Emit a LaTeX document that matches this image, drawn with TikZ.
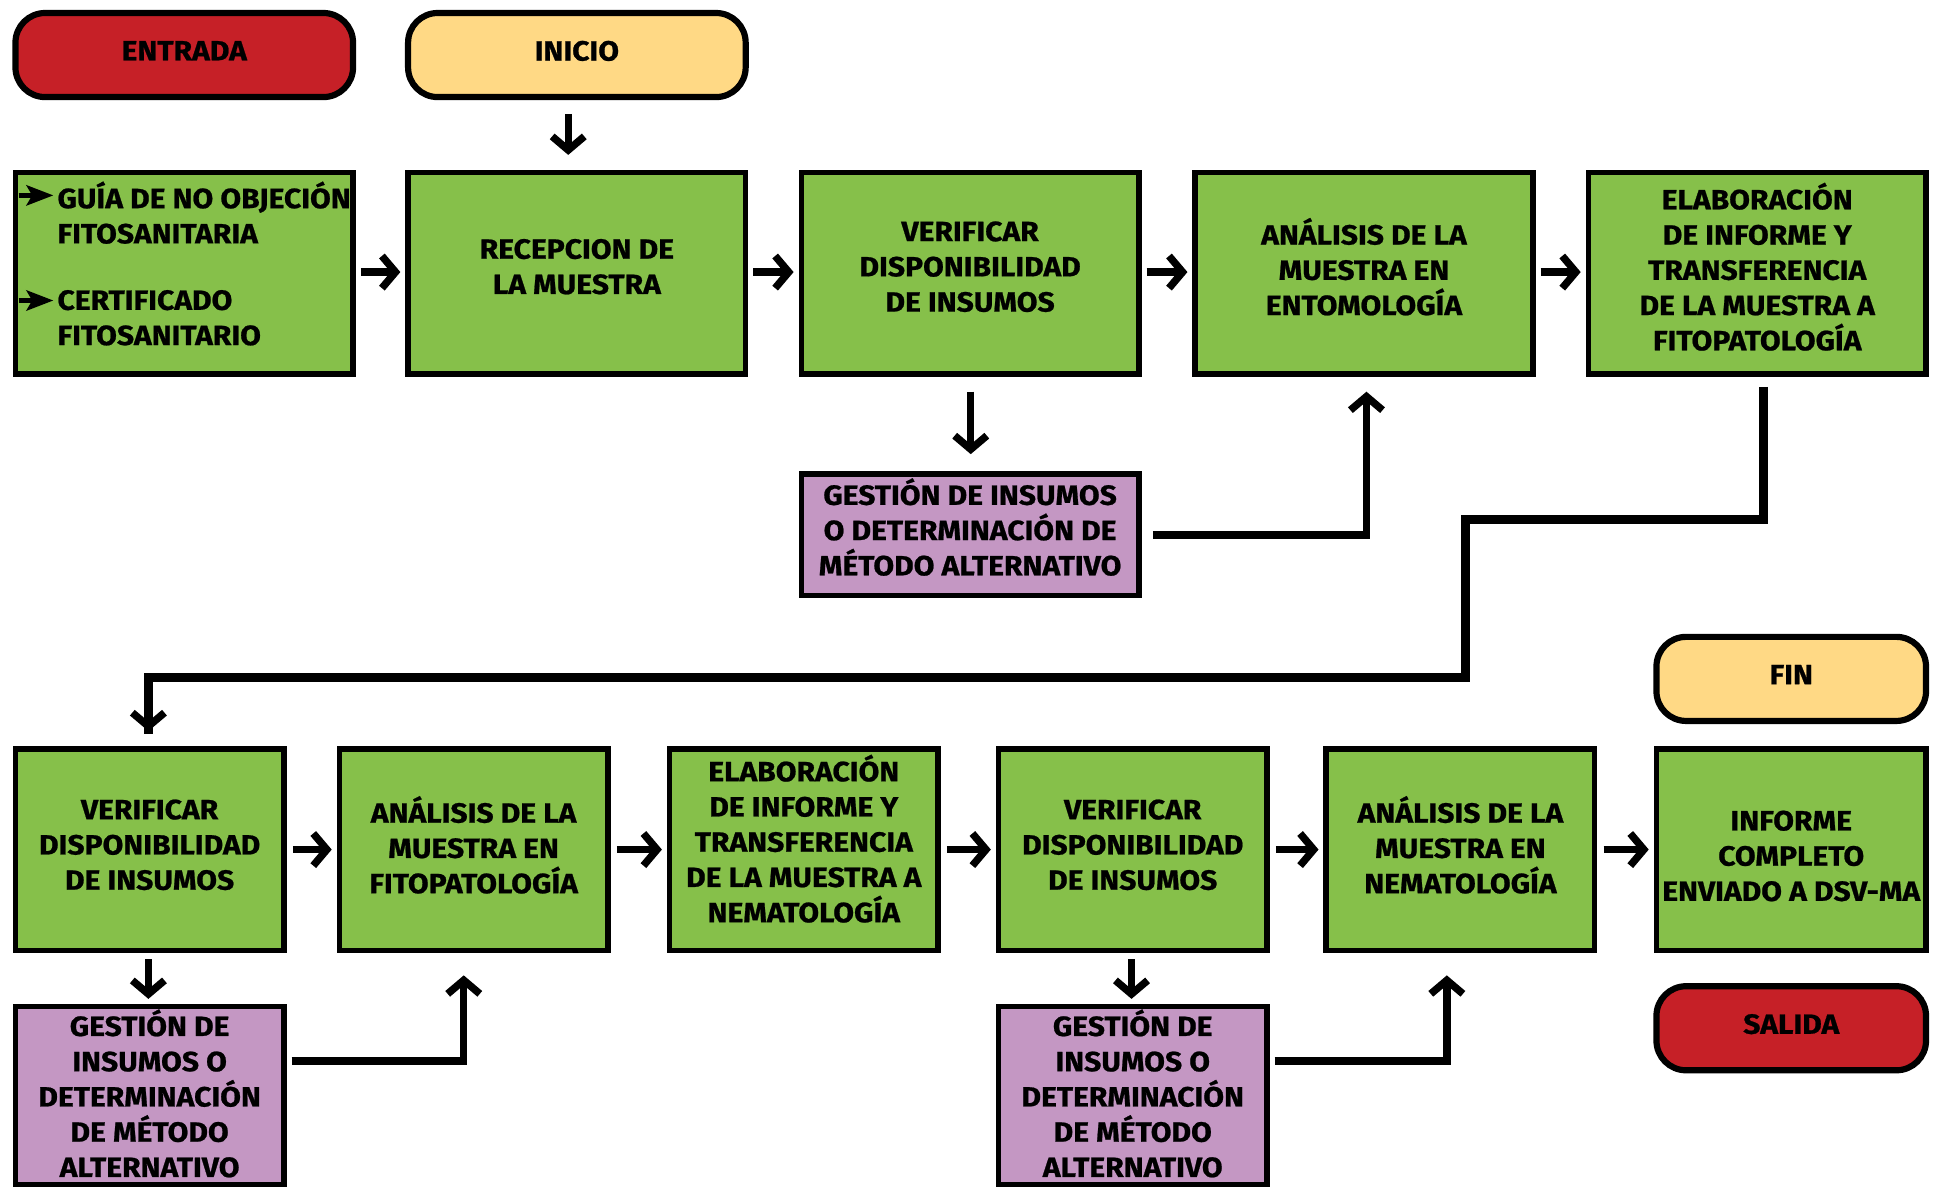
\documentclass[tikz,border=0pt]{standalone}
\usepackage{fontspec}
\setmainfont{Fira Sans}[FakeStretch=1.08, BoldFeatures={FakeBold=0.8}]
\usetikzlibrary{arrows.meta,calc}
\definecolor{redbox}{RGB}{198,32,39}
\definecolor{yellowbox}{RGB}{255,217,133}
\definecolor{greenbox}{RGB}{134,192,74}
\definecolor{purplebox}{RGB}{196,151,195}
\tikzset{
  docbullet/.pic={
    \draw[line width=3.5pt] (0,0) -- (14,0);
    \fill (28,0) -- (6,-8.5) -- (11,0) -- (6,8.5) -- cycle;
  }
}
\begin{document}
\begin{tikzpicture}[x=1pt,y=-1pt,
  every node/.style={font=\fontsize{22.5}{28.5}\selectfont\bfseries},
  terminal/.style={draw=black, line width=5pt, rounded corners=24pt,
    minimum width=273pt, minimum height=68pt, inner sep=0pt, align=center,
    text depth=7pt},
  stepbox/.style={draw=black, line width=4.5pt, fill=greenbox,
    minimum width=273pt, minimum height=163pt, inner sep=0pt, align=center,
    text depth=11pt},
  smallstep/.style={stepbox, minimum width=217pt, text depth=8pt},
  altbox/.style={draw=black, line width=4.5pt, fill=purplebox,
    minimum width=273pt, minimum height=98pt, inner sep=0pt, align=center,
    text depth=13pt},
  smallalt/.style={altbox, minimum width=217pt, minimum height=144pt, text depth=4pt},
  flow/.style={line width=6pt, -{Straight Barb[length=11pt,width=26pt]}},
  route/.style={line width=7pt}
]
\useasboundingbox (0,0) rectangle (1568,961);

% terminals
\node[terminal, fill=redbox]    (entrada) at (149,44.5)   {ENTRADA};
\node[terminal, fill=yellowbox] (inicio)  at (466.5,44.5) {INICIO};
\node[terminal, fill=yellowbox, minimum width=218pt] (fin)    at (1448.5,549)   {FIN};
\node[terminal, fill=redbox,    minimum width=218pt] (salida) at (1448.5,831.5) {SALIDA};

% first row: documents received
\node[stepbox] (guia)   at (149,221) {};
\node[anchor=west, align=left] (docs1) at (43,172) {GUÍA DE NO OBJECIÓN\\FITOSANITARIA};
\node[anchor=west, align=left] (docs2) at (43,257) {CERTIFICADO\\FITOSANITARIO};
\coordinate (b1) at (15,158);
\coordinate (b2) at (15,243);
\pic at (b1) {docbullet};
\pic at (b2) {docbullet};

\node[stepbox] (recep)  at (466.5,221) {RECEPCION DE\\LA MUESTRA};
\node[stepbox] (verif1) at (784.5,221) {VERIFICAR\\DISPONIBILIDAD\\DE INSUMOS};
\node[stepbox] (anal1)  at (1103,221)  {ANÁLISIS DE LA\\MUESTRA EN\\ENTOMOLOGÍA};
\node[stepbox] (elab1)  at (1421,221)  {ELABORACIÓN\\DE INFORME Y\\TRANSFERENCIA\\DE LA MUESTRA A\\FITOPATOLOGÍA};
\node[altbox]  (gest1)  at (784.5,432.5) {GESTIÓN DE INSUMOS\\O DETERMINACIÓN DE\\MÉTODO ALTERNATIVO};

% second row
\node[smallstep] (verif2)  at (121,687)    {VERIFICAR\\DISPONIBILIDAD\\DE INSUMOS};
\node[smallstep] (anal2)   at (383,687)    {ANÁLISIS DE LA\\MUESTRA EN\\FITOPATOLOGÍA};
\node[smallstep, text depth=18pt] (elab2) at (650,687) {ELABORACIÓN\\DE INFORME Y\\TRANSFERENCIA\\DE LA MUESTRA A\\NEMATOLOGÍA};
\node[smallstep] (verif3)  at (916,687)    {VERIFICAR\\DISPONIBILIDAD\\DE INSUMOS};
\node[smallstep] (anal3)   at (1181,687)   {ANÁLISIS DE LA\\MUESTRA EN\\NEMATOLOGÍA};
\node[smallstep, minimum width=218pt, text height=83pt, text depth=0pt] (informe) at (1448.5,687) {INFORME\\COMPLETO\\ENVIADO A DSV-MA};
\node[smallalt]  (gest2)   at (121,886)    {GESTIÓN DE\\INSUMOS O\\DETERMINACIÓN\\DE MÉTODO\\ALTERNATIVO};
\node[smallalt]  (gest3)   at (916,886)    {GESTIÓN DE\\INSUMOS O\\DETERMINACIÓN\\DE MÉTODO\\ALTERNATIVO};

% first row connectors
\draw[flow] ($(inicio.south)+(-7,11)$) -- ($(recep.north)+(-7,-12)$);
\draw[flow] ($(guia.east)+(4,-1)$)   -- ($(recep.west)+(-4,-1)$);
\draw[flow] ($(recep.east)+(4,-1)$)  -- ($(verif1.west)+(-4,-1)$);
\draw[flow] ($(verif1.east)+(4,-1)$) -- ($(anal1.west)+(-4,-1)$);
\draw[flow] ($(anal1.east)+(4,-1)$)  -- ($(elab1.west)+(-4,-1)$);
\draw[flow] ($(verif1.south)+(0.5,12)$) -- ($(gest1.north)+(0.5,-14)$);
\draw[flow] ($(gest1.east)+(9,0)$) -| ($(anal1.south)+(2,12)$);

% link to the second row
\coordinate (turnA) at (1185,420);
\coordinate (turnB) at (1185,548);
\draw[route] ($(elab1.south)+(5,8)$) |- (turnA) -- (turnB) -| ($(verif2.north)+(-1,-10)$);
\draw[flow] ($(verif2.north)+(-1,-14)$) -- ($(verif2.north)+(-1,-12)$);

% second row connectors
\draw[flow] ($(verif2.east)+(5,0)$)  -- ($(anal2.west)+(-4,0)$);
\draw[flow] ($(anal2.east)+(5,0)$)   -- ($(elab2.west)+(-4,0)$);
\draw[flow] ($(elab2.east)+(5,0)$)   -- ($(verif3.west)+(-4,0)$);
\draw[flow] ($(verif3.east)+(5,0)$)  -- ($(anal3.west)+(-4,0)$);
\draw[flow] ($(anal3.east)+(5,0)$)   -- ($(informe.west)+(-4,0)$);
\draw[flow] ($(verif2.south)+(-1,5)$) -- ($(gest2.north)+(-1,-4)$);
\draw[flow] ($(verif3.south)+(-1,5)$) -- ($(gest3.north)+(-1,-4)$);
\draw[flow] ($(gest2.east)+(4,-28)$) -| ($(anal2.south)+(-8,18)$);
\draw[flow] ($(gest3.east)+(4,-28)$) -| ($(anal3.south)+(-11,18)$);
\end{tikzpicture}
\end{document}
